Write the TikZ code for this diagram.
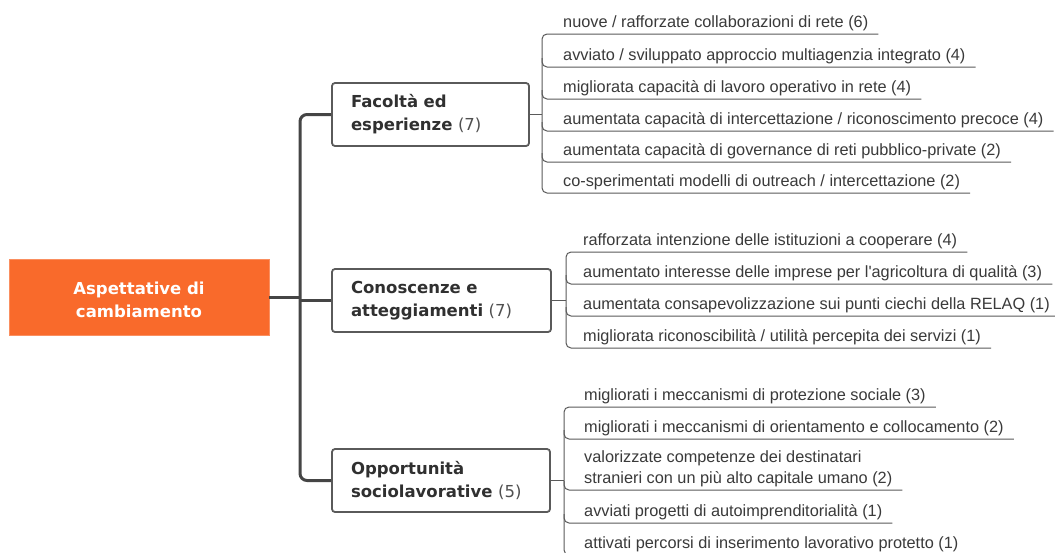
\documentclass[tikz,border=0pt]{standalone}
\usepackage{fontspec}
\setmainfont{Liberation Sans}[Ligatures=TeXOff]
\newfontfamily\boxfont{DejaVu Sans}
\usetikzlibrary{calc}
\definecolor{rootorange}{HTML}{F96A2B}
\definecolor{boxtext}{HTML}{303030}
\definecolor{numgray}{HTML}{505050}
\definecolor{boxborder}{HTML}{5A5A5A}
\definecolor{linegray}{HTML}{5A5A5A}
\definecolor{trunkgray}{HTML}{454545}
\definecolor{leaftext}{HTML}{3A3A3A}
\begin{document}
\begin{tikzpicture}[x=1pt,y=-1pt,
  rootbox/.style={fill=rootorange, draw=rootorange!75!white, line width=0.8pt,
    minimum width=260pt, minimum height=76pt, inner sep=0pt, align=center,
    text=white, font=\boxfont\bfseries\fontsize{16.5}{23}\selectfont},
  catbox/.style={fill=white, draw=boxborder, line width=1.8pt, rounded corners=3pt,
    minimum height=63pt, inner xsep=19pt, inner ysep=0pt, align=left,
    text=boxtext, font=\boxfont\bfseries\fontsize{16.5}{23}\selectfont},
  leaf/.style={inner sep=0pt, text=leaftext, align=left,
    font=\fontsize{16.3}{21}\selectfont},
  trunk/.style={draw=trunkgray, line width=3pt},
  leafline/.style={draw=linegray, line width=1pt}]
\useasboundingbox (0,0) rectangle (1055,552);
\clip (0,0) rectangle (1055,552);
\fill[white] (0,0) rectangle (1055,552);

% root and categories
\node[rootbox] (root) at (139,297) {\rule{0pt}{18pt}Aspettative di\\cambiamento};
\node[catbox, text width=159pt] (b1) at (430.5,114.5) {Facoltà ed\\esperienze {\mdseries\color{numgray}(7)}};
\node[catbox, text width=181pt] (b2) at (441.5,300.5) {Conoscenze e\\atteggiamenti {\mdseries\color{numgray}(7)}};
\node[catbox, text width=180pt] (b3) at (441,480.5) {Opportunità\\sociolavorative {\mdseries\color{numgray}(5)}};

% trunk
\coordinate (rj) at (root.east -| 300,0);
\coordinate (t1) at (b1.west -| 300,0);
\coordinate (t2) at (b2.west -| 300,0);
\draw[trunk] (root.east) -- (rj);
\draw[trunk] (b2.west) -- (t2);
\draw[trunk, rounded corners=7pt] (b1.west) -- (t1) |- (b3.west);

% group 1
\node[leaf, anchor=base west] (g1a) at (563,27) {nuove / rafforzate collaborazioni di rete (6)};
\node[leaf, anchor=base west] (g1b) at (563,60) {avviato / sviluppato approccio multiagenzia integrato (4)};
\node[leaf, anchor=base west] (g1c) at (563,92) {migliorata capacità di lavoro operativo in rete (4)};
\node[leaf, anchor=base west] (g1d) at (563,124) {aumentata capacità di intercettazione / riconoscimento precoce (4)};
\node[leaf, anchor=base west] (g1e) at (563,155) {aumentata capacità di governance di reti pubblico-private (2)};
\node[leaf, anchor=base west] (g1f) at (563,186) {co-sperimentati modelli di outreach / intercettazione (2)};
\coordinate (j1) at (b1.east -| 542,0);
\draw[leafline] (b1.east) -- (j1);
\draw[leafline, rounded corners=5pt] ($(g1a.east |- 0,34)+(10,0)$) -- (542,34) -- (542,193) -- ($(g1f.east |- 0,193)+(10,0)$);
\draw[leafline, rounded corners=5pt] (542,58) |- ($(g1b.east |- 0,67)+(10,0)$);
\draw[leafline, rounded corners=5pt] (542,90) |- ($(g1c.east |- 0,99)+(10,0)$);
\draw[leafline, rounded corners=5pt] (542,122) |- ($(g1d.east |- 0,131)+(10,0)$);
\draw[leafline, rounded corners=5pt] (542,153) |- ($(g1e.east |- 0,162)+(10,0)$);

% group 2
\node[leaf, anchor=base west] (g2a) at (583,245) {rafforzata intenzione delle istituzioni a cooperare (4)};
\node[leaf, anchor=base west] (g2b) at (583,277) {aumentato interesse delle imprese per l'agricoltura di qualità (3)};
\node[leaf, anchor=base west] (g2c) at (583,309) {aumentata consapevolizzazione sui punti ciechi della RELAQ (1)};
\node[leaf, anchor=base west] (g2d) at (583,341) {migliorata riconoscibilità / utilità percepita dei servizi (1)};
\coordinate (j2) at (b2.east -| 566,0);
\draw[leafline] (b2.east) -- (j2);
\draw[leafline, rounded corners=5pt] ($(g2a.east |- 0,252)+(10,0)$) -- (566,252) -- (566,348) -- ($(g2d.east |- 0,348)+(10,0)$);
\draw[leafline, rounded corners=5pt] (566,275) |- ($(g2b.east |- 0,284)+(10,0)$);
\draw[leafline, rounded corners=5pt] (566,307) |- ($(g2c.east |- 0,316)+(10,0)$);

% group 3
\node[leaf, anchor=base west] (g3a) at (584,400) {migliorati i meccanismi di protezione sociale (3)};
\node[leaf, anchor=base west] (g3b) at (584,432) {migliorati i meccanismi di orientamento e collocamento (2)};
\node[leaf, anchor=south west] (g3c) at (584,487) {valorizzate competenze dei destinatari\\stranieri con un più alto capitale umano (2)};
\node[leaf, anchor=base west] (g3d) at (584,516) {avviati progetti di autoimprenditorialità (1)};
\node[leaf, anchor=base west] (g3e) at (584,548) {attivati percorsi di inserimento lavorativo protetto (1)};
\coordinate (j3) at (b3.east -| 564,0);
\draw[leafline] (b3.east) -- (j3);
\draw[leafline, rounded corners=5pt] ($(g3a.east |- 0,407)+(10,0)$) -- (564,407) -- (564,555) -- ($(g3e.east |- 0,555)+(10,0)$);
\draw[leafline, rounded corners=5pt] (564,430) |- ($(g3b.east |- 0,439)+(10,0)$);
\draw[leafline, rounded corners=5pt] (564,481) |- ($(g3c.east |- 0,490)+(10,0)$);
\draw[leafline, rounded corners=5pt] (564,514) |- ($(g3d.east |- 0,523)+(10,0)$);
\end{tikzpicture}
\end{document}
